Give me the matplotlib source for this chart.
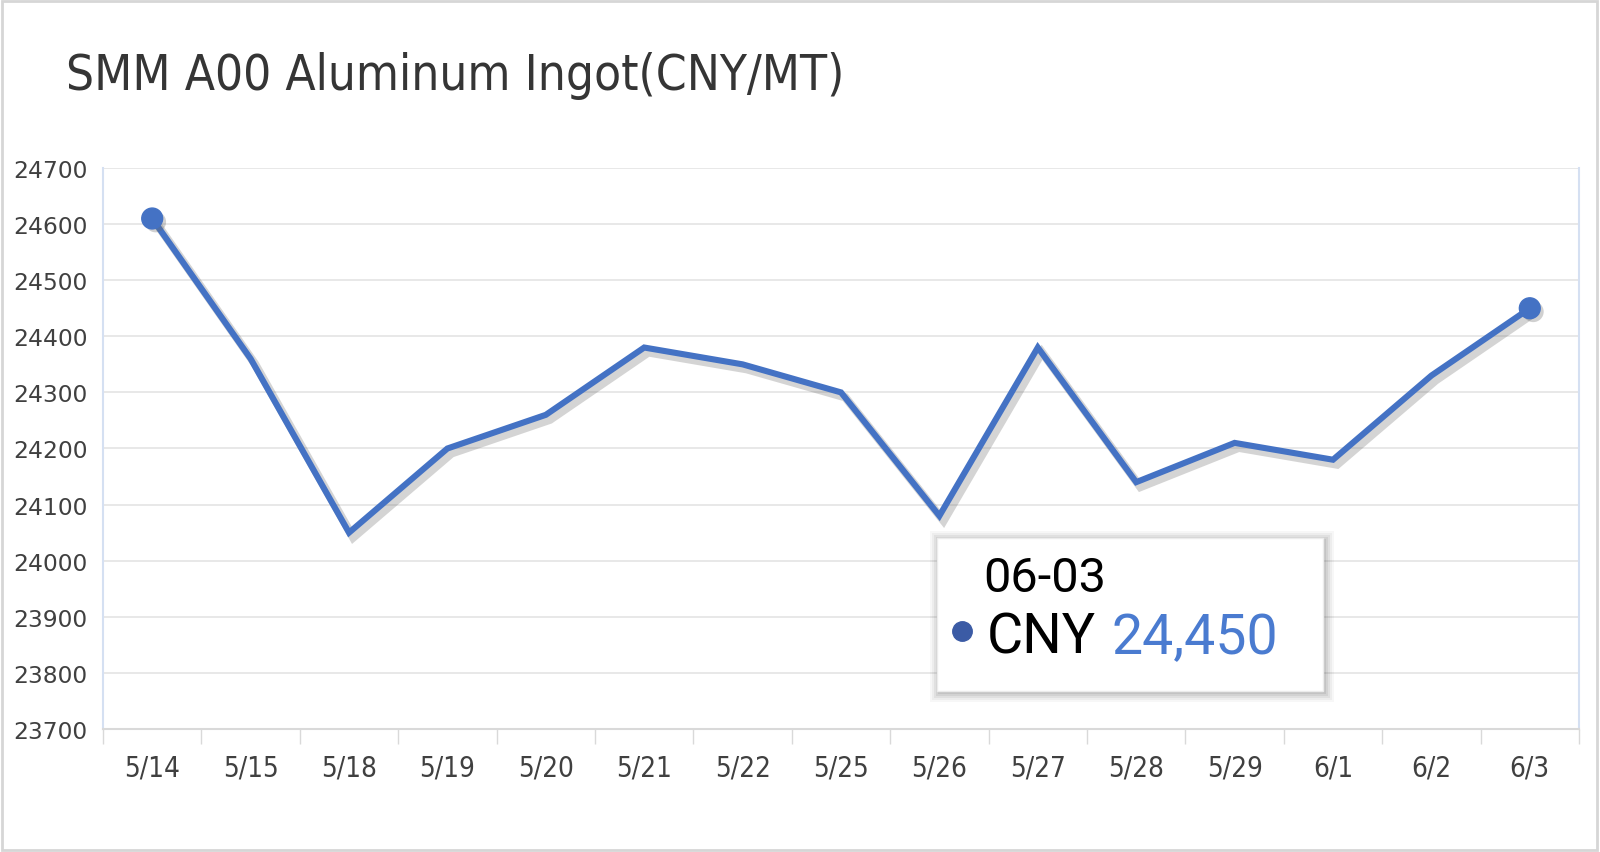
import matplotlib
matplotlib.use("Agg")
import matplotlib.pyplot as plt
import matplotlib.patheffects as pe
from matplotlib.patches import Rectangle
from matplotlib import font_manager

# data
dates = ["5/14", "5/15", "5/18", "5/19", "5/20", "5/21", "5/22", "5/25",
         "5/26", "5/27", "5/28", "5/29", "6/1", "6/2", "6/3"]
prices = [24610, 24360, 24050, 24200, 24260, 24380, 24350, 24300,
          24080, 24380, 24140, 24210, 24180, 24330, 24450]
yticks = list(range(23700, 24800, 100))
tip_date = "06-03"
tip_value = "24,450"

# look for a condensed face, the reference uses a narrow font
cond = font_manager.FontProperties(family="DejaVu Sans", stretch="condensed")
path = font_manager.findfont(cond, fallback_to_default=True)
have_cond = "Condensed" in path
names = {f.name for f in font_manager.fontManager.ttflist}
if have_cond:
    narrow = dict(family="DejaVu Sans", stretch="condensed")
elif "Liberation Sans Narrow" in names:
    narrow = dict(family="Liberation Sans Narrow")
else:
    narrow = dict(family="Liberation Sans")

W, H = 1600, 853
fig = plt.figure(figsize=(W / 100, H / 100), dpi=100)
fig.patch.set_facecolor("white")

def fx(px):
    return px / W

def fy(py):
    return 1 - py / H

# outer frame
fig.add_artist(Rectangle((0.001, 0.002), 0.997, 0.996, transform=fig.transFigure,
                         fill=False, edgecolor="#d6d6d6", linewidth=2))

ax = fig.add_axes([fx(103), fy(730), fx(1579) - fx(103), fy(169) - fy(730)])
x = list(range(len(dates)))

line_color = "#4472c4"
ax.plot(x, prices, color=line_color, linewidth=4.4, solid_joinstyle="miter", zorder=3,
        path_effects=[pe.SimpleLineShadow(offset=(3, -3.5), shadow_color="#666666", alpha=0.28,
                                          linewidth=6),
                      pe.Normal()])
ax.plot([x[0], x[-1]], [prices[0], prices[-1]], "o", color=line_color, markersize=15, zorder=4,
        path_effects=[pe.SimplePatchShadow(offset=(2.5, -2.5), shadow_rgbFace="#666666", alpha=0.3),
                      pe.Normal()])

ax.set_xlim(-0.5, len(dates) - 0.5)
ax.set_ylim(yticks[0], yticks[-1])
ax.set_yticks(yticks)
ax.set_yticklabels([str(v) for v in yticks], fontsize=16.8, color="#404040", family="DejaVu Sans")
ax.set_xticks(x)
ax.set_xticklabels(dates, fontsize=20, color="#404040", **narrow)
ax.set_xticks([i - 0.5 for i in range(len(dates) + 1)], minor=True)
ax.tick_params(axis="x", which="major", length=0, pad=18)
ax.tick_params(axis="x", which="minor", length=11, width=1, color="#d9d9d9", direction="out")
ax.tick_params(axis="y", length=0, pad=11)

ax.grid(axis="y", color="#e4e4e4", linewidth=1.2)
ax.set_axisbelow(True)
ax.spines["top"].set_visible(False)
ax.spines["bottom"].set_color("#d9d9d9")
ax.spines["bottom"].set_linewidth(1.5)
for s in ["left", "right"]:
    ax.spines[s].set_color("#d5e0f2")
    ax.spines[s].set_linewidth(1.5)

# title
fig.text(fx(66), fy(90), "SMM A00 Aluminum Ingot(CNY/MT)", fontsize=35.5 if have_cond else 34,
         color="#353535", ha="left", va="baseline", **narrow)

# tooltip box with soft shadow
bx0, by0, bx1, by1 = 937, 539, 1323, 692
for k, a in [(9, 0.03), (7, 0.04), (5, 0.05), (3, 0.06), (1, 0.07)]:
    fig.add_artist(Rectangle((fx(bx0 - k + 2), fy(by1 + k + 2)), fx(bx1 - bx0 + 2 * k),
                             fy(by0) - fy(by1) + 2 * k / H,
                             transform=fig.transFigure, facecolor="black", edgecolor="none",
                             alpha=a, zorder=5))
fig.add_artist(Rectangle((fx(bx0), fy(by1)), fx(bx1 - bx0), fy(by0) - fy(by1),
                         transform=fig.transFigure, facecolor="white", edgecolor="#ececec",
                         linewidth=1, zorder=6))
fig.text(fx(983), fy(592), tip_date, fontsize=35, color="black", family="Roboto",
         ha="left", va="baseline", zorder=7)
fig.text(fx(987), fy(654), "CNY", fontsize=40, color="black", family="Roboto",
         ha="left", va="baseline", zorder=7)
fig.text(fx(1111), fy(654), tip_value, fontsize=40, color="#4a7bd0", family="Roboto",
         ha="left", va="baseline", zorder=7)
dot = fig.add_axes([fx(950), fy(644), fx(24), 24 / H], zorder=7)
dot.set_xlim(-1, 1)
dot.set_ylim(-1, 1)
dot.plot([0], [0], "o", color="#3b5ba5", markersize=14)
dot.axis("off")

fig.savefig("out.png", dpi=100)
